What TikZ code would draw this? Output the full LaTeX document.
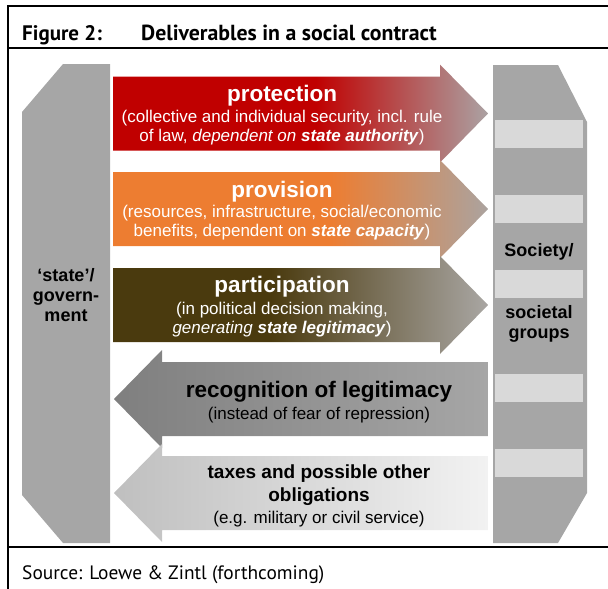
\documentclass[tikz,border=0pt]{standalone}
\usepackage{fontspec}
\setmainfont{Liberation Sans}
\newfontfamily\capfont{PT Sans}
\usetikzlibrary{positioning}
\definecolor{stategray}{HTML}{A6A6A6}
\definecolor{barlight}{HTML}{D9D9D9}
\definecolor{protred}{HTML}{C00000}
\definecolor{provorange}{HTML}{ED7D31}
\definecolor{partbrown}{HTML}{4A3A0E}
\definecolor{protend}{HTML}{ABA2A3}
\definecolor{provend}{HTML}{ABA39F}
\definecolor{partend}{HTML}{A9A6A3}
\definecolor{recogdark}{HTML}{7F7F7F}
\definecolor{recoglight}{HTML}{A6A6A6}
\definecolor{taxdark}{HTML}{BFBFBF}
\definecolor{taxlight}{HTML}{F2F2F2}
\pgfdeclarehorizontalshading{protshade}{100bp}{color(0bp)=(protred); color(52bp)=(protred); color(75bp)=(protend); color(100bp)=(protend)}
\pgfdeclarehorizontalshading{provshade}{100bp}{color(0bp)=(provorange); color(54bp)=(provorange); color(75bp)=(provend); color(100bp)=(provend)}
\pgfdeclarehorizontalshading{partshade}{100bp}{color(0bp)=(partbrown); color(46bp)=(partbrown); color(75bp)=(partend); color(100bp)=(partend)}
\tikzstyle{frameline} = [line width=2pt, black]
\tikzstyle{bar} = [rectangle, fill=barlight, minimum width=88pt, minimum height=28pt, inner sep=0pt]
\tikzstyle{sidelabel} = [inner sep=0pt, align=center, font=\fontsize{18}{20}\selectfont\bfseries]
\tikzstyle{arrowtext} = [inner sep=0pt, align=center, font=\fontsize{17}{19}\selectfont]
\tikzstyle{caption} = [anchor=base west, inner sep=0pt]
\newcommand{\headline}{\fontsize{22.5}{24}\selectfont\bfseries}
\newcommand{\taxhead}{\fontsize{19}{22}\selectfont\bfseries}

\begin{document}
\begin{tikzpicture}[x=1pt, y=-1pt]
  \useasboundingbox (0,0) rectangle (608,589);
  % frame and caption
  \draw [frameline] (8,589) -- (8,6) -- (608,6);
  \draw [frameline] (8,48) -- (608,48);
  \draw [frameline] (8,547) -- (608,547);
  \node (fig) [caption, font=\capfont\fontsize{21}{24}\selectfont\bfseries] at (22,40) {Figure 2:};
  \node (figtitle) [caption, font=\capfont\fontsize{21.8}{24}\selectfont\bfseries] at (141,40) {Deliverables in a social contract};
  \node (source) [caption, font=\capfont\fontsize{19.4}{24}\selectfont] at (22,579) {Source: Loewe \& Zintl (forthcoming)};

  % state and society blocks
  \fill [stategray] (63,64) -- (110,64) -- (110,543) -- (63,543) -- (22,495) -- (22,112) -- cycle;
  \fill [stategray] (493,65) -- (558,65) -- (587,122) -- (587,493) -- (558,543) -- (493,543) -- cycle;
  \foreach \yb [count=\i] in {134,209,284,387.5,462.5}
    \node (bar\i) [bar] at (539,\yb) {};
  \node (state) [sidelabel] at (66,295) {‘state’/\\govern-\\ment};
  \node (society) [sidelabel, above=9pt of bar3] {Society/};
  \node (groups) [sidelabel, below=7pt of bar3] {societal\\groups};

  % deliverables from state to society
  \foreach \yc/\shd in {113.5/protshade,209/provshade,305/partshade}
    \shade [shading=\shd] (113,\yc-37) -- (440,\yc-37) -- (440,\yc-49) -- (488,\yc)
      -- (440,\yc+49) -- (440,\yc+37) -- (113,\yc+37) -- cycle;
  % deliverables from society to state
  \shade [left color=recogdark, right color=recoglight] (488,362) -- (162,362) -- (162,350) -- (114,399)
    -- (162,448) -- (162,436) -- (488,436) -- cycle;
  \shade [left color=taxdark, right color=taxlight] (488,456) -- (162,456) -- (162,444) -- (114,493)
    -- (162,542) -- (162,530) -- (488,530) -- cycle;

  \node (protection) [arrowtext, text=white] at (282,115.5)
    {{\headline protection}\\[2pt] (collective and individual security, incl. rule\\
     of law, \textit{dependent on \textbf{state authority}})};
  \node (provision) [arrowtext, text=white] at (282,211)
    {{\headline provision}\\[1pt] (resources, infrastructure, social/economic\\
     benefits, dependent on \textbf{\textit{state capacity}})};
  \node (participation) [arrowtext, text=white] at (282,307)
    {{\headline participation}\\[3pt] (in political decision making,\\
     \textit{generating \textbf{state legitimacy}})};
  \node (recognition) [arrowtext] at (319,402.5)
    {{\headline recognition of legitimacy}\\[3pt] (instead of fear of repression)};
  \node (taxes) [arrowtext] at (319,496)
    {{\taxhead taxes and possible other}\\[4pt] {\taxhead obligations}\\[3pt]
     (e.g. military or civil service)};
\end{tikzpicture}
\end{document}
